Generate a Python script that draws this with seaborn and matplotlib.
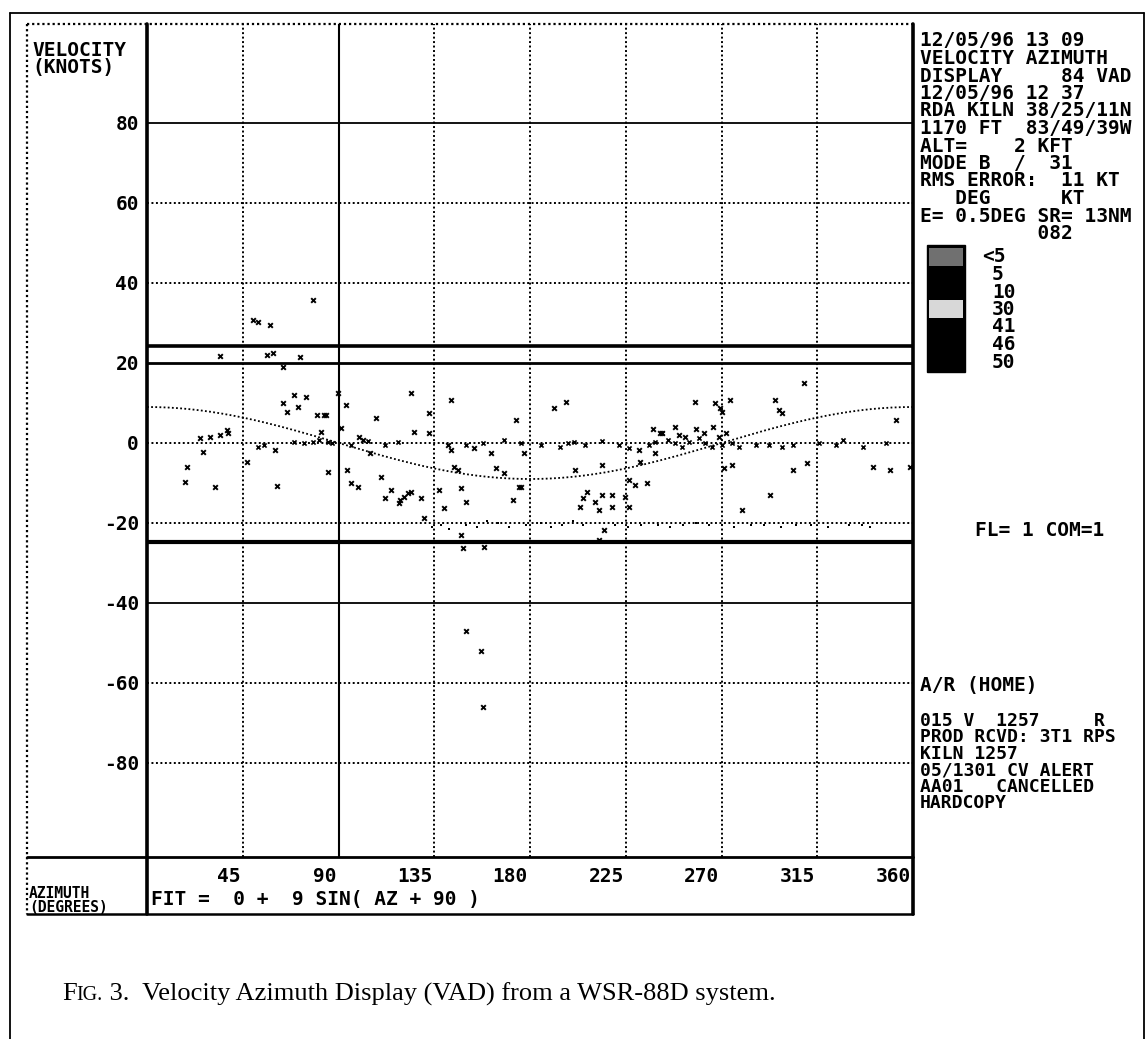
import numpy as np
import pandas as pd
import matplotlib
matplotlib.use("Agg")
import matplotlib.pyplot as plt
from matplotlib.patches import Rectangle
from matplotlib.offsetbox import TextArea, HPacker, AnnotationBbox
import seaborn as sns

sns.set_style("white")
plt.rcParams["font.family"] = ["DejaVu Sans Mono", "DejaVu Sans"]

# ---------------- data ----------------
# radial velocity fit: V = FIT_OFFSET + FIT_AMP * sin(AZ + FIT_PHASE)
FIT_OFFSET = 0
FIT_AMP = 9
FIT_PHASE = 90

# scattered velocity estimates (azimuth in degrees, velocity in knots)
scatter_az = [78, 50, 52, 58, 34.4, 56.6, 59, 72, 63.7,
              64, 66, 69, 71, 74.5, 80, 83, 84, 81.6, 91, 93.4, 89.6, 107.6, 124, 132.6,
              125.5, 132.6, 143, 173.6, 197, 191.5, 257.6, 267, 269.4, 270.3, 274, 295.3,
              297, 298.6, 309, 352,
              25, 29.7, 34.4, 37.7, 38.2,
              26.4, 18.9, 17.9, 32, 47, 60, 61, 85, 94, 95.8, 99, 99.5, 101.4, 105, 110,
              114.6, 112, 119, 122.7, 121, 124, 128.8, 118.4, 137, 139.6, 147.7, 150, 172,
              176, 161.8, 164, 168, 177.4, 144.4, 146.3, 141.5, 143, 153.8, 130, 147.7,
              148.6, 158.5, 174.6, 241, 238.7, 231, 231.6, 213.7, 201, 275, 271, 303.4,
              310.4, 341, 349, 358.6, 226.5, 229.3, 235, 205, 206.6, 213.7, 218.4, 224.6,
              203.3, 210.4, 212.3, 218.4, 226.5, 293, 279.8, 215, 212.3,
              242, 238, 248, 250, 258, 262, 266, 269, 272, 253,
              150, 157, 158]
scatter_vel = [35.75, 30.75, 30.25, 29.5, 21.75, 22, 22.5, 21.5, 19,
               10, 7.75, 12, 9, 11.5, 7, 7, 7, 2.75, 3.75, 9.5, 12.5, 6.25, 12.5, 7.5,
               2.75, 2.5, 10.75, 5.75, 10.25, 8.75, 10.25, 10, 8.75, 7.75, 10.75, 10.75,
               8.25, 7.5, 15, 5.75,
               1.25, 1.5, 2, 3.25, 2.5,
               -2.25, -6, -9.75, -11, -4.75, -1.75, -10.75, -7.25, -6.75, -10, -11, 1.5, 0.75, -2.5, -8.5,
               -11.75, -13.75, -14.25, -12.5, -13.5, -12.25, -13.75, -15, -11.75, -16.25, -11.25, -14.75, -14.25,
               -11, -2.5, -6.25, -7.5, -2.5, -6, -6.75, -0.5, -1.75, -1.25, -18.75, -23,
               -26.25, -26, -11, 2.5, -2.5, -1.75, -4.75, -5.5, -6.75, -5.5, -6.25, -6.75,
               -5, -6, -6.75, -6, -9.25, -10.5, -10, -13.75, -12.25, -13, -13, -13.5,
               -16, -14.75, -16.75, -16, -16, -13, -16.75, -21.75, -24.25,
               2.5, 3.5, 4, 2, 3.5, 2.5, 4, 1.5, 2.5, 1.5,
               -47, -52, -66]

# dense estimates lying close to zero velocity
zero_az = [52, 55, 69, 73.6, 78, 80.7, 85, 87, 96, 104, 112, 118, 150, 158,
           168, 176, 185.4, 194, 198, 200.5, 205.7, 214, 221.7, 226.5, 236, 238.7,
           242, 245, 248, 251.5, 254.8, 259.5, 262.3, 265.6, 270.3, 275, 278.4, 286,
           292.5, 298.6, 303.4, 316, 323.6, 327, 336.4, 347.2]
zero_vel = [-1, -0.5, 0.25, 0, 0.25, 0.75, 0.25, 0, -0.5, 0.5, -0.5, 0.25, -0.5, 0,
            0.75, 0, -0.5, -1, 0, 0.25, -0.5, 0.5, -0.5, -1.25, -0.5, 0.25,
            2.5, 0.75, 0, -1, 0.25, 1.25, 0, -1, -0.5, 0, -1, -0.5,
            -0.5, -1, -0.5, 0, -0.5, 0.75, -1, 0]

# estimates clustered near -20 knots
band_az = [134, 138, 142, 150, 155, 160, 165, 170, 178, 185, 190, 195, 200, 205,
           220, 226, 232, 240, 246, 252, 258, 264, 270, 276, 284, 290, 298, 305,
           312, 320, 330, 336, 340]
band_vel = [-21, -20.5, -21.5, -20.5, -21, -19.5, -20, -21, -20.5, -20, -21, -20.5,
            -19.5, -20.5, -20.5, -21, -20.5, -20.5, -21, -20.5, -20, -20.5, -20.5,
            -21, -20.5, -20.5, -21, -20.5, -20.5, -21, -20.5, -20.5, -21]

x_ticks = [45, 90, 135, 180, 225, 270, 315, 360]
x_tick_labels = ["45", "90", "135", "180", "225", "270", "315", "360"]
y_ticks = [80, 60, 40, 20, 0, -20, -40, -60, -80]
y_tick_labels = ["80", "60", "40", "20", "0", "-20", "-40", "-60", "-80"]

legend_labels = ["<5", "5", "10", "30", "41", "46", "50"]

header_lines = ["12/05/96 13 09", "VELOCITY AZIMUTH", "DISPLAY     84 VAD",
                "12/05/96 12 37", "RDA KILN 38/25/11N", "1170 FT  83/49/39W",
                "ALT=    2 KFT", "MODE B  /  31", "RMS ERROR:  11 KT",
                "   DEG      KT", "E= 0.5DEG SR= 13NM", "          082"]
status_lines = ["015 V  1257     R", "PROD RCVD: 3T1 RPS", "KILN 1257",
                "05/1301 CV ALERT", "AA01   CANCELLED", "HARDCOPY"]

# ---------------- figure ----------------
W, H = 1148, 1039
fig = plt.figure(figsize=(W / 100, H / 100), dpi=100)
fig.patch.set_facecolor("white")

PL, PR, PT, PB = 147, 913, 24, 857
YMIN, YMAX = -103.5, 104.75
ax = fig.add_axes([PL / W, 1 - PB / H, (PR - PL) / W, (PB - PT) / H])
ax.set_xlim(0, 360)
ax.set_ylim(YMIN, YMAX)
ax.set_xticks([])
ax.set_yticks([])
for s in ax.spines.values():
    s.set_visible(False)

dot = (0, (1, 1.3))
# grid
for xv in [45, 135, 180, 225, 270, 315]:
    ax.axvline(xv, color="black", lw=1.4, ls=dot, zorder=1)
ax.axvline(90, color="black", lw=1.5, zorder=1)
for yv in [60, 40, 0, -20, -60, -80]:
    ax.axhline(yv, color="black", lw=1.4, ls=dot, zorder=1)
ax.axhline(80, color="black", lw=1.3, zorder=1)
ax.axhline(-40, color="black", lw=1.3, zorder=1)
ax.axhline(20, color="black", lw=2.0, zorder=1)
ax.axhline(24.2, color="black", lw=2.6, zorder=1)
ax.axhline(-24.8, color="black", lw=3.0, zorder=1)

# fitted sine curve from the stated coefficients
fit_az = np.arange(0, 361, 2.5)
fit_df = pd.DataFrame({"az": fit_az,
                       "vel": FIT_OFFSET + FIT_AMP * np.sin(np.radians(fit_az + FIT_PHASE))})
sns.lineplot(data=fit_df, x="az", y="vel", ax=ax, color="black", lw=1.3,
             linestyle=dot, zorder=2)

pts = pd.DataFrame({"az": scatter_az, "vel": scatter_vel})
sns.scatterplot(data=pts, x="az", y="vel", ax=ax, marker="x", s=11, color="black",
                linewidth=1.4, zorder=3)
zdf = pd.DataFrame({"az": zero_az, "vel": zero_vel})
sns.scatterplot(data=zdf, x="az", y="vel", ax=ax, marker="x", s=9, color="black",
                linewidth=1.2, zorder=3)
bdf = pd.DataFrame({"az": band_az, "vel": band_vel})
sns.scatterplot(data=bdf, x="az", y="vel", ax=ax, marker="s", s=4, color="black",
                linewidth=0, zorder=3)
ax.set_xlabel("")
ax.set_ylabel("")

# ---------------- overlay in pixel space ----------------
ov = fig.add_axes([0, 0, 1, 1], facecolor="none")
ov.set_xlim(0, W)
ov.set_ylim(H, 0)
ov.axis("off")

def px_x(az):
    return PL + (PR - PL) * az / 360.0

def px_y(v):
    return PB - (PB - PT) * (v - YMIN) / (YMAX - YMIN)

# outer frame
ov.plot([10, 10], [H, 13], color="black", lw=1.3)
ov.plot([10, 1144], [13, 13], color="black", lw=1.3)
ov.plot([1144, 1144], [13, H], color="black", lw=1.3)

# display box
BL, BR, BT, BB = 27, 913, 24, 914
ov.plot([BL, BR], [BT, BT], color="black", lw=1.6, ls=dot)
ov.plot([BL, BL], [BT, BB], color="black", lw=1.6, ls=dot)
ov.plot([BL, BR], [BB, BB], color="black", lw=1.8)
ov.plot([BR, BR], [BT, BB], color="black", lw=2.6)
ov.plot([PL, PL], [BT, BB], color="black", lw=2.6)
ov.plot([BL, BR], [PB, PB], color="black", lw=2.0)

FS = 14
tk = dict(color="black", fontweight="bold", fontsize=FS)
ov.text(32, 50, "VELOCITY", va="center", ha="left", **tk)
ov.text(32, 68, "(KNOTS)", va="center", ha="left", **tk)
for v, lab in zip(y_ticks, y_tick_labels):
    ov.text(139, px_y(v) + 1, lab, va="center", ha="right", **tk)
for a, lab in zip(x_ticks, x_tick_labels):
    ov.text(px_x(a) - 2, 876, lab, va="center", ha="right", **tk)
small = dict(color="black", fontweight="bold", fontsize=10.5)
ov.text(29, 894, "AZIMUTH", va="center", ha="left", **small)
ov.text(29, 907, "(DEGREES)", va="center", ha="left", **small)
ov.text(151, 900, "FIT =  0 +  9 SIN( AZ + 90 )", va="center", ha="left", **tk)

# right-hand information panel
for i, line in enumerate(header_lines):
    ov.text(920, 41 + 17.5 * i, line, va="center", ha="left", **tk)

# velocity legend bar
ov.add_patch(Rectangle((927, 245), 38, 127, facecolor="black", edgecolor="black"))
ov.add_patch(Rectangle((929, 248), 34, 18, facecolor="#707070", edgecolor="none"))
ov.add_patch(Rectangle((929, 300), 34, 18, facecolor="#d8d8d8", edgecolor="none"))
for i, lab in enumerate(legend_labels):
    x0 = 982 if lab.startswith("<") else 992
    ov.text(x0, 257 + 17.5 * i, lab, va="center", ha="left", **tk)

ov.text(975, 530, "FL= 1 COM=1", va="center", ha="left", **tk)
ov.text(920, 686, "A/R (HOME)", va="center", ha="left", **tk)
st = dict(color="black", fontweight="bold", fontsize=13)
for i, line in enumerate(status_lines):
    ov.text(920, 721 + 16.5 * i, line, va="center", ha="left", **st)

# caption
cap_kw = dict(family="Liberation Serif", color="black")
parts = HPacker(children=[
    TextArea("F", textprops=dict(fontsize=19, **cap_kw)),
    TextArea("IG.", textprops=dict(fontsize=14.5, **cap_kw)),
    TextArea(" 3.  Velocity Azimuth Display (VAD) from a WSR-88D system.",
             textprops=dict(fontsize=19, **cap_kw)),
], align="baseline", pad=0, sep=0)
ab = AnnotationBbox(parts, (62, 994), xycoords=ov.transData, box_alignment=(0, 0.5),
                    frameon=False, pad=0)
ov.add_artist(ab)

fig.savefig("out.png", dpi=100, facecolor="white")
